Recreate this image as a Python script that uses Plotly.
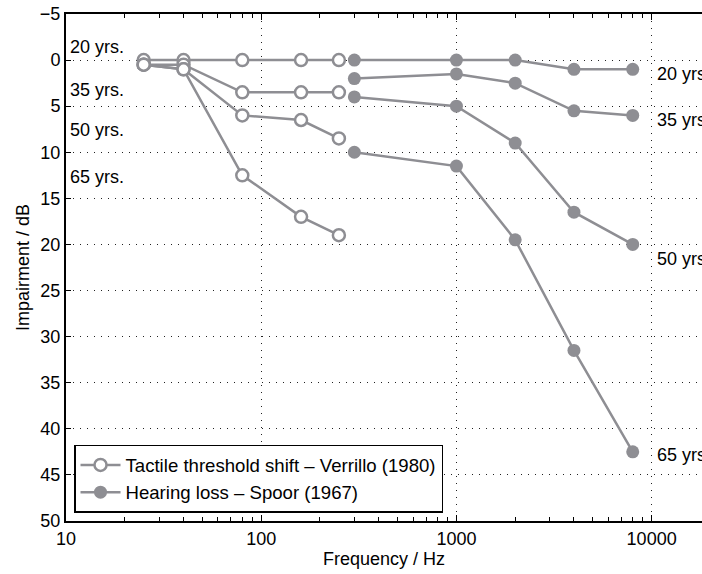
import plotly.graph_objects as go

ages = ["20 yrs.", "35 yrs.", "50 yrs.", "65 yrs."]
right_labels = ["20 yrs", "35 yrs", "50 yrs", "65 yrs"]

tactile_freq = [25, 40, 80, 160, 250]
tactile_vals = [
    [0, 0, 0, 0, 0],
    [0.5, 0.5, 3.5, 3.5, 3.5],
    [0.5, 1, 6, 6.5, 8.5],
    [0.5, 1, 12.5, 17, 19],
]

hearing_freq = [300, 1000, 2000, 4000, 8000]
hearing_vals = [
    [0, 0, 0, 1, 1],
    [2, 1.5, 2.5, 5.5, 6],
    [4, 5, 9, 16.5, 20],
    [10, 11.5, 19.5, 31.5, 42.5],
]

left_label_y = [-1.4, 3.2, 7.6, 12.7]
right_label_y = [1.5, 6.5, 21.6, 42.8]

major_x = [10, 100, 1000, 10000]
minor_x = [m * d for d in [10, 100, 1000, 10000] for m in range(2, 10)]
y_ticks = list(range(-5, 55, 5))

gray = "#8e8e93"
font = "Liberation Sans, Arial, Helvetica, sans-serif"
fs = 18

fig = go.Figure()
for i, vals in enumerate(tactile_vals):
    fig.add_trace(go.Scatter(
        x=tactile_freq, y=vals, mode="lines+markers",
        line=dict(color=gray, width=2.5),
        marker=dict(symbol="circle", size=12, color="white",
                    line=dict(color=gray, width=2.5)),
        name="Tactile threshold shift – Verrillo (1980)",
        legendgroup="t", showlegend=(i == 0),
    ))
for i, vals in enumerate(hearing_vals):
    fig.add_trace(go.Scatter(
        x=hearing_freq, y=vals, mode="lines+markers",
        line=dict(color=gray, width=2.5),
        marker=dict(symbol="circle", size=13, color=gray,
                    line=dict(color=gray, width=0)),
        name="Hearing loss – Spoor (1967)",
        legendgroup="h", showlegend=(i == 0),
    ))

for lab, yv in zip(ages, left_label_y):
    fig.add_annotation(x=1.01, y=yv, xref="x", yref="y", text=lab,
                       showarrow=False, xanchor="left", yanchor="middle",
                       font=dict(size=fs, color="black", family=font))
for lab, yv in zip(right_labels, right_label_y):
    fig.add_annotation(x=4.017, y=yv, xref="x", yref="y", text=lab,
                       showarrow=False, xanchor="left", yanchor="middle",
                       font=dict(size=fs, color="black", family=font))

fig.update_layout(
    width=702, height=574,
    margin=dict(l=66, r=0, t=14, b=53),
    paper_bgcolor="white", plot_bgcolor="white",
    font=dict(family=font, size=fs, color="black"),
    legend=dict(x=0.0126, y=0.016, xanchor="left", yanchor="bottom",
                bordercolor="black", borderwidth=1.5, bgcolor="white",
                font=dict(size=18.6), tracegroupgap=0, itemwidth=40),
)
fig.update_xaxes(
    type="log", range=[1, 4.258],
    tickvals=major_x, ticktext=[str(v) for v in major_x],
    ticks="inside", ticklen=6, tickwidth=1, tickcolor="black",
    showline=True, linecolor="black", linewidth=2, mirror="ticks",
    showgrid=True, gridcolor="#222", gridwidth=1, griddash="1px,6px",
    minor=dict(tickvals=minor_x, ticks="inside", ticklen=4, tickcolor="black",
               showgrid=False),
    zeroline=False,
    title=dict(text="Frequency / Hz", standoff=4, font=dict(size=fs)),
    tickfont=dict(size=fs),
)
fig.update_yaxes(
    range=[50, -5], tickvals=y_ticks,
    ticks="inside", ticklen=5, tickwidth=1, tickcolor="black",
    showline=True, linecolor="black", linewidth=2,
    showgrid=True, gridcolor="#222", gridwidth=1, griddash="1px,6px",
    zeroline=False,
    title=dict(text="Impairment / dB", standoff=6, font=dict(size=fs)),
    tickfont=dict(size=fs),
)

fig.write_html(
    "out.html",
    config={"displayModeBar": False},
    post_script="document.body.style.margin='0';document.body.style.overflow='hidden';",
)
